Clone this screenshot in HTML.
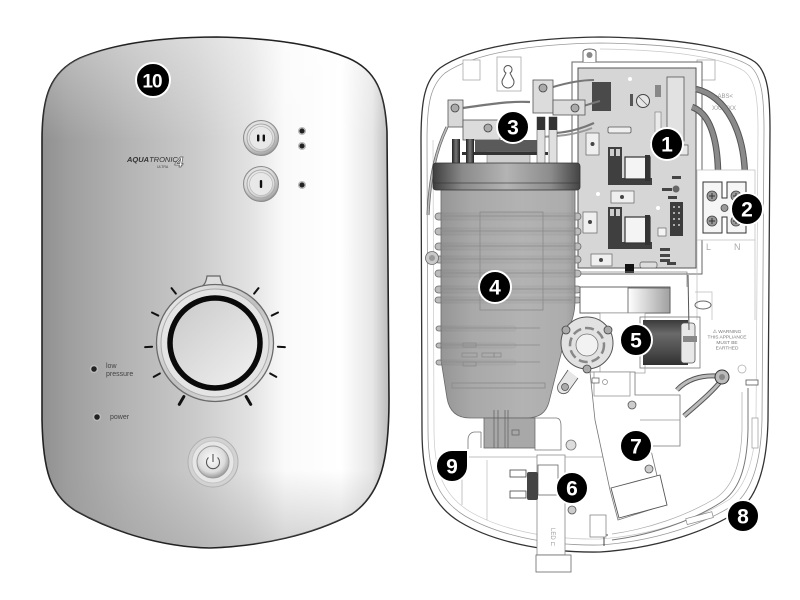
<!DOCTYPE html>
<html><head><meta charset="utf-8"><style>
html,body{margin:0;padding:0;background:#fff;}
svg{display:block;}
text{font-family:"Liberation Sans",sans-serif;}
</style></head><body>
<svg width="800" height="600" viewBox="0 0 800 600" xmlns="http://www.w3.org/2000/svg">
<defs>
<linearGradient id="cov" x1="40" y1="0" x2="390" y2="0" gradientUnits="userSpaceOnUse">
<stop offset="0" stop-color="#8f8f8f"/><stop offset="0.08" stop-color="#9e9e9e"/>
<stop offset="0.25" stop-color="#b4b4b4"/><stop offset="0.45" stop-color="#cbcbcb"/>
<stop offset="0.6" stop-color="#e2e2e2"/><stop offset="0.7" stop-color="#fafafa"/>
<stop offset="0.86" stop-color="#ffffff"/><stop offset="0.95" stop-color="#e6e6e6"/>
<stop offset="1" stop-color="#b8b8b8"/></linearGradient>
<linearGradient id="covb" x1="0" y1="470" x2="0" y2="550" gradientUnits="userSpaceOnUse">
<stop offset="0" stop-color="#999" stop-opacity="0"/><stop offset="1" stop-color="#999" stop-opacity="0.45"/></linearGradient>
<linearGradient id="covt" x1="0" y1="37" x2="0" y2="140" gradientUnits="userSpaceOnUse">
<stop offset="0" stop-color="#fff" stop-opacity="0.35"/><stop offset="1" stop-color="#fff" stop-opacity="0"/></linearGradient>
<radialGradient id="btn" cx="0.45" cy="0.4" r="0.6"><stop offset="0" stop-color="#fafafa"/><stop offset="0.7" stop-color="#dcdcdc"/><stop offset="1" stop-color="#9a9a9a"/></radialGradient>
<linearGradient id="dial" x1="0" y1="0" x2="1" y2="1"><stop offset="0" stop-color="#c8c8c8"/><stop offset="1" stop-color="#f2f2f2"/></linearGradient>
<linearGradient id="ring" x1="0" y1="0" x2="1" y2="1"><stop offset="0" stop-color="#f4f4f4"/><stop offset="0.5" stop-color="#c0c0c0"/><stop offset="1" stop-color="#eeeeee"/></linearGradient>
<linearGradient id="cap" x1="433" y1="0" x2="580" y2="0" gradientUnits="userSpaceOnUse">
<stop offset="0" stop-color="#3e3e3e"/><stop offset="0.2" stop-color="#8a8a8a"/><stop offset="0.5" stop-color="#b4b4b4"/><stop offset="0.8" stop-color="#8c8c8c"/><stop offset="1" stop-color="#444"/></linearGradient>
<linearGradient id="tank" x1="436" y1="0" x2="580" y2="0" gradientUnits="userSpaceOnUse">
<stop offset="0" stop-color="#8a8a8a"/><stop offset="0.25" stop-color="#a2a2a2"/><stop offset="0.6" stop-color="#adadad"/><stop offset="0.9" stop-color="#a6a6a6"/><stop offset="1" stop-color="#8e8e8e"/></linearGradient>
<linearGradient id="sol" x1="0" y1="320" x2="0" y2="366" gradientUnits="userSpaceOnUse">
<stop offset="0" stop-color="#3a3a3a"/><stop offset="0.3" stop-color="#6a6a6a"/><stop offset="0.7" stop-color="#4a4a4a"/><stop offset="1" stop-color="#2e2e2e"/></linearGradient>
<linearGradient id="cyl" x1="628" y1="0" x2="670" y2="0" gradientUnits="userSpaceOnUse">
<stop offset="0" stop-color="#fff"/><stop offset="1" stop-color="#a0a0a0"/></linearGradient>
<linearGradient id="stub" x1="0" y1="0" x2="1" y2="0"><stop offset="0" stop-color="#222"/><stop offset="0.5" stop-color="#777"/><stop offset="1" stop-color="#222"/></linearGradient>
</defs>

<!-- ================= FRONT COVER ================= -->
<path d="M217 37 C270 38 315 44 348 58 C376 70 385 92 387 132 L389 400 C389 460 381 494 352 514 C312 535 262 546 210 548 C160 547 112 531 76 511 C50 495 43 470 42 420 L42 140 C42 97 50 72 80 58 C118 42 168 37 217 37 Z" fill="url(#cov)" stroke="#222" stroke-width="1.6"/>
<path d="M217 38 C270 39 315 45 348 59 C376 71 385 92 387 132 L389 400 C389 460 381 494 352 514 C312 535 262 546 210 547 C160 546 112 531 76 511 C50 495 43 470 42 420 L42 140 C42 97 50 72 80 58 C118 43 168 38 217 38 Z" fill="url(#covb)"/>
<path d="M217 38 C270 39 315 45 348 59 C376 71 385 92 387 132 L387 140 L42 140 C42 97 50 72 80 58 C118 43 168 38 217 38 Z" fill="url(#covt)"/>

<!-- label 10 -->
<circle cx="153" cy="80" r="17" fill="#000" stroke="#fff" stroke-width="2"/>
<text x="152" y="87.5" font-size="19" font-weight="bold" fill="#fff" text-anchor="middle" letter-spacing="-1">10</text>

<!-- buttons -->
<circle cx="261" cy="138" r="17.5" fill="url(#btn)" stroke="#8a8a8a" stroke-width="1"/>
<circle cx="261" cy="138" r="14" fill="none" stroke="#a8a8a8" stroke-width="1"/>
<circle cx="261" cy="138" r="11.5" fill="#e8e8e8" stroke="#bbb" stroke-width="0.8"/>
<rect x="257" y="134.5" width="2.4" height="7" rx="1" fill="#111"/><rect x="262.6" y="134.5" width="2.4" height="7" rx="1" fill="#111"/>
<circle cx="261" cy="184" r="17.5" fill="url(#btn)" stroke="#8a8a8a" stroke-width="1"/>
<circle cx="261" cy="184" r="14" fill="none" stroke="#a8a8a8" stroke-width="1"/>
<circle cx="261" cy="184" r="11.5" fill="#e8e8e8" stroke="#bbb" stroke-width="0.8"/>
<rect x="259.8" y="180" width="2.4" height="8" rx="1" fill="#111"/>
<!-- LEDs -->
<g fill="#222" stroke="#bbb" stroke-width="1.5">
<circle cx="302" cy="131" r="3.3"/><circle cx="302" cy="146" r="3.3"/><circle cx="302" cy="185" r="3.3"/>
<circle cx="94" cy="369" r="3.5"/><circle cx="97" cy="417" r="3.5"/></g>
<!-- logo -->
<text x="127" y="162" font-size="7.5" fill="#333" font-style="italic"><tspan font-weight="bold">AQUA</tspan>TRONIC</text>
<text x="175" y="167" font-size="15" fill="#fff" stroke="#555" stroke-width="0.7" font-style="italic" font-weight="bold">4</text>
<text x="157" y="168" font-size="3.5" fill="#444">ULTRA</text>
<text x="106" y="368" font-size="7" fill="#444">low</text>
<text x="106" y="376" font-size="7" fill="#444">pressure</text>
<text x="110" y="419" font-size="7" fill="#444">power</text>

<!-- dial -->
<g stroke="#111" stroke-width="2" stroke-linecap="round">
<line x1="278" y1="343" x2="285" y2="343" transform="rotate(-128.4 215 343)"/>
<line x1="278" y1="343" x2="285" y2="343" transform="rotate(-154.2 215 343)"/>
<line x1="278" y1="343" x2="285" y2="343" transform="rotate(176.6 215 343)"/>
<line x1="278" y1="343" x2="285" y2="343" transform="rotate(151.1 215 343)"/>
<line x1="277" y1="343" x2="286" y2="343" stroke-width="3" transform="rotate(120.2 215 343)"/>
<line x1="278" y1="343" x2="285" y2="343" transform="rotate(-51.6 215 343)"/>
<line x1="278" y1="343" x2="285" y2="343" transform="rotate(-25.8 215 343)"/>
<line x1="278" y1="343" x2="285" y2="343" transform="rotate(3.4 215 343)"/>
<line x1="278" y1="343" x2="285" y2="343" transform="rotate(28.9 215 343)"/>
<line x1="277" y1="343" x2="286" y2="343" stroke-width="3" transform="rotate(59.8 215 343)"/>
</g>
<path d="M196 289 C203 287 206 284 207 276 L220 276 C221 284 224 287 231 289 Z" fill="#ddd" stroke="#666" stroke-width="1.2"/>
<circle cx="215" cy="343" r="58.5" fill="url(#ring)" stroke="#6a6a6a" stroke-width="1.3"/>
<circle cx="215" cy="343" r="54" fill="#e4e4e4" stroke="#aaa" stroke-width="1"/>
<circle cx="215" cy="343" r="45" fill="url(#dial)" stroke="#0a0a0a" stroke-width="5.5"/>

<!-- power button -->
<circle cx="213" cy="462" r="25" fill="#d2d2d2" stroke="#b0b0b0" stroke-width="1"/>
<circle cx="213" cy="462" r="21" fill="#e6e6e6" stroke="#c4c4c4" stroke-width="1"/>
<circle cx="213" cy="462" r="16" fill="url(#btn)" stroke="#999" stroke-width="1"/>
<path d="M208.5 457.5 A6.5 6.5 0 1 0 217.5 457.5" fill="none" stroke="#555" stroke-width="1.1"/>
<line x1="213" y1="454" x2="213" y2="462" stroke="#555" stroke-width="1.1"/>

<!-- ================= BACK PLATE ================= -->
<path d="M600 37 C680 38 735 48 755 62 C768 72 770 95 770 130 L768 420 C767 465 758 495 740 510 C710 530 660 548 600 552 C540 553 490 540 460 522 C432 505 422 480 422 430 L421 140 C421 100 425 80 440 68 C470 47 530 38 600 37 Z" fill="#fff" stroke="#333" stroke-width="1.3"/>
<path d="M600 43 C678 44 730 53 750 66 C762 76 764 98 764 130 L762 420 C761 462 752 490 735 504 C706 523 658 541 600 545 C542 546 494 533 465 516 C439 500 428 477 428 430 L427 140 C427 102 431 85 445 73 C474 53 532 44 600 43 Z" fill="none" stroke="#999" stroke-width="0.8"/>
<path d="M600 49 C676 50 724 58 744 71 C756 80 758 100 758 130 L756 420 C755 458 746 485 730 499 C702 517 656 535 600 539 C544 540 497 528 469 511 C445 496 434 474 434 430 L433 140" fill="none" stroke="#c8c8c8" stroke-width="0.7"/>
<!-- lower right channel -->
<path d="M748 388 L748 430 C747 470 738 492 720 503 C690 522 650 535 612 540" fill="none" stroke="#777" stroke-width="1"/>
<path d="M742 392 L742 430 C741 466 732 487 716 498 C686 516 648 529 612 534" fill="none" stroke="#aaa" stroke-width="0.7"/>
<rect x="746" y="380" width="12" height="5" fill="#fff" stroke="#555" stroke-width="0.8"/>
<rect x="752" y="418" width="6" height="30" fill="#fff" stroke="#999" stroke-width="0.7"/>
<rect x="686" y="515" width="27" height="6" fill="#fff" stroke="#888" stroke-width="0.7" transform="rotate(-15 700 518)"/>
<path d="M604 532 L604 546 M600 535 L608 535" stroke="#444" stroke-width="1"/>
<!-- top details -->
<rect x="463" y="60" width="17" height="20" fill="#fff" stroke="#aaa" stroke-width="0.8"/>
<rect x="497" y="57" width="24" height="34" fill="#fff" stroke="#aaa" stroke-width="0.8"/>
<path d="M506 73 A4 4 0 1 1 510 73 L512.5 78 A6 6 0 1 1 503.5 78 Z" fill="#fff" stroke="#555" stroke-width="1"/>
<rect x="697" y="60" width="18" height="20" fill="#fff" stroke="#aaa" stroke-width="0.8"/>
<text x="714" y="98" font-size="6" fill="#999">&gt;ABS&lt;</text>
<text x="712" y="110" font-size="6" fill="#999">XXXXXX</text>
<!-- PCB frame -->
<rect x="572" y="62" width="130" height="212" fill="#fff" stroke="#666" stroke-width="1"/>
<path d="M583 62 L583 52 C583 48 596 48 596 52 L596 62" fill="#fff" stroke="#666" stroke-width="1"/>
<circle cx="589.5" cy="55" r="3" fill="#888"/>
<rect x="578" y="68" width="118" height="200" fill="#d6d6d6" stroke="#555" stroke-width="1"/>
<!-- PCB parts -->
<rect x="592" y="82" width="19" height="29" fill="#4a4a4a"/>
<circle cx="643" cy="101" r="6.5" fill="#e6e6e6" stroke="#444" stroke-width="1"/>
<line x1="639" y1="97" x2="647" y2="105" stroke="#666" stroke-width="0.8"/>
<rect x="667" y="77" width="17" height="64" fill="#e2e2e2" stroke="#555" stroke-width="0.8"/>
<rect x="655" y="112" width="6" height="26" fill="#eaeaea" stroke="#777" stroke-width="0.6"/>
<rect x="608" y="127" width="23" height="6" rx="1.5" fill="#efefef" stroke="#555" stroke-width="0.8"/>
<rect x="655" y="85" width="6" height="12" fill="#888"/>
<rect x="630" y="94" width="3" height="12" fill="#555"/>
<rect x="586" y="133" width="13" height="22" fill="#efefef" stroke="#666" stroke-width="0.7"/><circle cx="592.5" cy="144" r="2" fill="#444"/>
<rect x="583" y="212" width="14" height="21" fill="#efefef" stroke="#666" stroke-width="0.7"/><circle cx="590" cy="222" r="2" fill="#444"/>
<rect x="611" y="191" width="23" height="12" fill="#efefef" stroke="#666" stroke-width="0.7"/><circle cx="622" cy="197" r="2" fill="#444"/>
<rect x="591" y="254" width="21" height="12" fill="#efefef" stroke="#666" stroke-width="0.7"/><circle cx="601" cy="260" r="2" fill="#444"/>
<!-- relay 1 -->
<path d="M608 147 L622 147 L622 178 L652 178 L652 185 L608 185 Z" fill="#3f3f3f"/>
<rect x="610" y="149" width="4" height="7" fill="#ccc"/><rect x="616" y="149" width="4" height="7" fill="#ccc"/>
<rect x="625" y="157" width="25" height="22" fill="#f4f4f4" stroke="#333" stroke-width="1.2"/>
<rect x="645" y="155" width="5" height="26" fill="#333"/>
<!-- relay 2 -->
<path d="M608 207 L622 207 L622 242 L652 242 L652 249 L608 249 Z" fill="#3f3f3f"/>
<rect x="610" y="209" width="4" height="7" fill="#ccc"/><rect x="616" y="209" width="4" height="7" fill="#ccc"/>
<rect x="625" y="217" width="25" height="26" fill="#f4f4f4" stroke="#333" stroke-width="1.2"/>
<rect x="645" y="215" width="5" height="30" fill="#333"/>
<!-- connector -->
<rect x="670" y="202" width="13" height="34" fill="#3c3c3c"/>
<g fill="#aaa"><rect x="673" y="206" width="2" height="2"/><rect x="678" y="206" width="2" height="2"/><rect x="673" y="212" width="2" height="2"/><rect x="678" y="212" width="2" height="2"/><rect x="673" y="218" width="2" height="2"/><rect x="678" y="218" width="2" height="2"/><rect x="673" y="224" width="2" height="2"/><rect x="678" y="224" width="2" height="2"/></g>
<rect x="658" y="228" width="8" height="8" fill="#f4f4f4" stroke="#555" stroke-width="0.6"/>
<g fill="#444"><rect x="660" y="248" width="10" height="3"/><rect x="660" y="254" width="10" height="3"/><rect x="660" y="259" width="10" height="3"/><rect x="662" y="188" width="10" height="3"/><rect x="668" y="196" width="9" height="3"/><rect x="672" y="176" width="9" height="3"/><rect x="650" y="142" width="9" height="3"/><rect x="667" y="262" width="9" height="3"/></g>
<circle cx="676" cy="189" r="3.5" fill="#666"/>
<rect x="677" y="145" width="11" height="10" fill="#e8e8e8" stroke="#555" stroke-width="0.7"/>
<rect x="625" y="264" width="9" height="9" fill="#111"/>
<rect x="640" y="262" width="17" height="6" rx="2" fill="#ddd" stroke="#555" stroke-width="0.7"/>
<circle cx="630" cy="79" r="2" fill="#fff"/><circle cx="598" cy="194" r="2" fill="#fff"/><circle cx="658" cy="208" r="2" fill="#fff"/>
<!-- cables to terminal -->
<path d="M696 89 C725 96 746 130 745 184" fill="none" stroke="#555" stroke-width="6.5"/>
<path d="M696 89 C725 96 746 130 745 184" fill="none" stroke="#8a8a8a" stroke-width="4.5"/>
<path d="M692 107 C712 114 719 145 718 184" fill="none" stroke="#555" stroke-width="6.5"/>
<path d="M692 107 C712 114 719 145 718 184" fill="none" stroke="#8a8a8a" stroke-width="4.5"/>
<!-- terminal block -->
<rect x="697" y="170" width="58" height="70" fill="#fff" stroke="#bbb" stroke-width="0.7"/>
<path d="M703 182 L722 182 L722 198 L727 198 L727 182 L746 182 L746 233 L727 233 L727 217 L722 217 L722 233 L703 233 Z" fill="#f6f6f6" stroke="#333" stroke-width="1"/>
<g fill="#999" stroke="#444" stroke-width="0.8"><circle cx="712" cy="196" r="5"/><circle cx="712" cy="221" r="5"/><circle cx="736" cy="196" r="5"/><circle cx="736" cy="221" r="5"/><circle cx="724.5" cy="208" r="3.5"/></g>
<g stroke="#333" stroke-width="1"><path d="M709 196 h6 M712 193 v6 M709 221 h6 M712 218 v6 M733 196 h6 M736 193 v6 M733 221 h6 M736 218 v6"/></g>
<text x="706" y="250" font-size="9" fill="#aaa">L</text>
<text x="734" y="250" font-size="9" fill="#aaa">N</text>
<line x1="697" y1="240" x2="697" y2="320" stroke="#bbb" stroke-width="0.7"/>
<line x1="755" y1="240" x2="755" y2="320" stroke="#bbb" stroke-width="0.7"/>

<!-- left wire -->
<path d="M447 127 C436 150 430 175 428 215" fill="none" stroke="#666" stroke-width="3"/>
<path d="M447 127 C436 150 430 175 428 215" fill="none" stroke="#bdbdbd" stroke-width="1.5"/>

<!-- manifold (3) -->
<path d="M463 108 C490 104 510 101 530 102" fill="none" stroke="#777" stroke-width="2.2"/>
<path d="M553 87 C570 82 583 80 594 80" fill="none" stroke="#777" stroke-width="2"/>
<path d="M575 108 C585 106 592 103 600 101" fill="none" stroke="#777" stroke-width="2"/>
<path d="M556 133 C570 132 583 128 594 123" fill="none" stroke="#777" stroke-width="2.2"/>
<path d="M540 137 C560 136 575 135 592 128" fill="none" stroke="#999" stroke-width="2"/>
<rect x="448" y="100" width="15" height="27" fill="#d8d8d8" stroke="#555" stroke-width="0.8"/>
<circle cx="455" cy="108" r="4" fill="#aaa" stroke="#444" stroke-width="0.8"/>
<rect x="463" y="120" width="37" height="20" fill="#dcdcdc" stroke="#555" stroke-width="0.8"/>
<circle cx="488" cy="128" r="4" fill="#aaa" stroke="#444" stroke-width="0.8"/>
<rect x="533" y="80" width="20" height="33" fill="#dcdcdc" stroke="#555" stroke-width="0.8"/>
<circle cx="543" cy="88" r="4" fill="#aaa" stroke="#444" stroke-width="0.8"/>
<rect x="553" y="100" width="32" height="15" fill="#dcdcdc" stroke="#555" stroke-width="0.8"/>
<circle cx="575" cy="108" r="4" fill="#aaa" stroke="#444" stroke-width="0.8"/>
<rect x="475" y="140" width="65" height="13" fill="#5a5a5a"/>
<rect x="487" y="152" width="43" height="12" fill="#cfcfcf" stroke="#777" stroke-width="0.6"/>
<rect x="462" y="152" width="86" height="3" fill="#333"/>
<rect x="452" y="139" width="8" height="25" fill="url(#stub)"/>
<rect x="466" y="139" width="8" height="25" fill="url(#stub)"/>
<rect x="537" y="117" width="8" height="47" fill="#e0e0e0" stroke="#555" stroke-width="0.6"/>
<rect x="549" y="117" width="8" height="47" fill="#e0e0e0" stroke="#555" stroke-width="0.6"/>
<rect x="537" y="117" width="8" height="13" fill="#333"/><rect x="549" y="117" width="8" height="13" fill="#333"/>

<!-- heater tank (4) -->
<g fill="#bcbcbc" stroke="#6a6a6a" stroke-width="0.8">
<rect x="435" y="213" width="146" height="7" rx="3.5"/>
<rect x="435" y="228" width="146" height="7" rx="3.5"/>
<rect x="435" y="243" width="146" height="7" rx="3.5"/>
<rect x="435" y="256" width="146" height="7" rx="3.5"/>
<rect x="435" y="270" width="146" height="7" rx="3.5"/>
<rect x="435" y="286" width="146" height="7" rx="3.5"/>
<rect x="435" y="297" width="146" height="6" rx="3"/>
<rect x="436" y="326" width="80" height="5" rx="2.5"/>
<rect x="436" y="343" width="80" height="5" rx="2.5"/>
<rect x="436" y="360" width="80" height="5" rx="2.5"/>
</g>
<circle cx="432" cy="258" r="6.5" fill="#c8c8c8" stroke="#666" stroke-width="0.8"/>
<circle cx="432" cy="258" r="3" fill="#999"/>
<path d="M441 189 L575 189 L575 300 C575 315 571 324 566 334 L549 402 C546 413 539 418 526 418 L470 418 C456 418 449 410 447 398 L441 360 Z" fill="url(#tank)" stroke="#6a6a6a" stroke-width="0.8" fill-opacity="0.93"/>
<g fill="none" stroke="#8a8a8a" stroke-width="0.8">
<path d="M441 216 H575 M441 231 H575 M441 246 H575 M441 259 H575 M441 273 H575 M441 289 H575 M441 300 H572 M441 328 H540 M441 345 H540 M441 362 H540"/>
<rect x="480" y="212" width="63" height="98"/>
<rect x="452" y="383" width="93" height="5"/>
<rect x="463" y="343" width="13" height="4"/><rect x="462" y="353" width="15" height="4"/><rect x="482" y="353" width="12" height="4"/><rect x="494" y="353" width="7" height="4"/><rect x="463" y="362" width="13" height="4"/>
</g>
<rect x="433" y="163" width="147" height="27" rx="3" fill="url(#cap)" stroke="#333" stroke-width="0.8"/>
<line x1="434" y1="183" x2="579" y2="183" stroke="#333" stroke-width="1" opacity="0.6"/>
<!-- outlet -->
<rect x="484" y="418" width="51" height="30" fill="#a8a8a8" stroke="#666" stroke-width="0.8"/>
<g stroke="#666" stroke-width="0.8" fill="none"><path d="M494 410 V448 M498 410 V448 M505 410 V448 M508 410 V448"/><rect x="512" y="430" width="7" height="5"/></g>
<path d="M535 418 L556 418 C560 418 561 422 561 426 L561 450 L535 450 Z" fill="#fff" stroke="#777" stroke-width="0.8"/>
<circle cx="571" cy="445" r="5" fill="#ddd" stroke="#777" stroke-width="0.8"/>
<path d="M481 432 L475 432 C470 432 468 436 468 440 L468 452 M481 432 L481 448" fill="none" stroke="#777" stroke-width="0.8"/>
<line x1="455" y1="457" x2="615" y2="457" stroke="#aaa" stroke-width="0.8"/>
<line x1="462" y1="470" x2="462" y2="505" stroke="#aaa" stroke-width="0.7"/>
<line x1="487" y1="460" x2="487" y2="520" stroke="#bbb" stroke-width="0.7"/>

<!-- gear motor / valve (5) -->
<path d="M580 272 L687 272 L687 287" fill="none" stroke="#888" stroke-width="0.8"/>
<rect x="580" y="287" width="90" height="26" fill="#fff" stroke="#555" stroke-width="0.9"/>
<rect x="628" y="288" width="42" height="25" fill="url(#cyl)" stroke="#555" stroke-width="0.8"/>
<rect x="600" y="313" width="45" height="60" fill="#fff" stroke="#999" stroke-width="0.7"/>
<circle cx="587" cy="343" r="26" fill="#e2e2e2" stroke="#555" stroke-width="1"/>
<circle cx="587" cy="345" r="17" fill="none" stroke="#888" stroke-width="2.5" stroke-dasharray="9 4"/>
<circle cx="587" cy="345" r="11" fill="#f2f2f2" stroke="#777" stroke-width="0.8"/>
<g fill="#aaa" stroke="#444" stroke-width="0.8"><circle cx="566" cy="330" r="4"/><circle cx="608" cy="330" r="4"/><circle cx="587" cy="369" r="4"/></g>
<path d="M568 370 L558 385 C556 392 562 396 568 392 L578 378" fill="#e6e6e6" stroke="#555" stroke-width="0.8"/>
<circle cx="565" cy="387" r="3.5" fill="#aaa" stroke="#444" stroke-width="0.7"/>
<rect x="643" y="320" width="45" height="45" fill="url(#sol)"/>
<rect x="640" y="317" width="60" height="51" fill="none" stroke="#777" stroke-width="0.8"/>
<rect x="681" y="323" width="14" height="40" rx="3" fill="#e8e8e8" stroke="#555" stroke-width="0.8"/>
<rect x="683" y="336" width="14" height="6" fill="#888"/>
<line x1="688" y1="275" x2="689" y2="330" stroke="#555" stroke-width="1"/>
<ellipse cx="703" cy="305" rx="8" ry="4" fill="none" stroke="#666" stroke-width="1"/>
<path d="M695 292 L712 292 L712 320" fill="none" stroke="#bbb" stroke-width="0.7"/>
<text x="727" y="333" font-size="4.8" fill="#777" text-anchor="middle">⚠ WARNING</text>
<text x="727" y="338.5" font-size="4.8" fill="#777" text-anchor="middle">THIS APPLIANCE</text>
<text x="727" y="344" font-size="4.8" fill="#777" text-anchor="middle">MUST BE</text>
<text x="727" y="349.5" font-size="4.8" fill="#777" text-anchor="middle">EARTHED</text>
<circle cx="742" cy="369" r="4" fill="none" stroke="#aaa" stroke-width="0.7"/>
<!-- earth cables -->
<path d="M677 390 C686 380 700 375 717 376" fill="none" stroke="#555" stroke-width="5"/>
<path d="M677 390 C686 380 700 375 717 376" fill="none" stroke="#bbb" stroke-width="3"/>
<path d="M720 382 C712 392 700 402 684 416" fill="none" stroke="#555" stroke-width="5"/>
<path d="M720 382 C712 392 700 402 684 416" fill="none" stroke="#bbb" stroke-width="3"/>
<circle cx="722" cy="377" r="7" fill="#bbb" stroke="#333" stroke-width="1"/>
<circle cx="722" cy="377" r="3" fill="#888"/>

<!-- flow part (7) -->
<path d="M590 372 L635 372 L635 395 L680 395 L680 446 L650 446 L658 480 L665 505 L618 520 L610 490 L595 420 Z" fill="#fff" stroke="#777" stroke-width="0.8"/>
<path d="M640 420 L680 420" stroke="#999" stroke-width="0.7"/>
<rect x="594" y="372" width="36" height="24" fill="#fff" stroke="#888" stroke-width="0.7"/>
<circle cx="605" cy="382" r="2.5" fill="none" stroke="#888" stroke-width="0.7"/>
<rect x="592" y="378" width="7" height="5" fill="#fff" stroke="#555" stroke-width="0.7"/>
<circle cx="632" cy="405" r="4" fill="#ccc" stroke="#555" stroke-width="0.8"/>
<circle cx="649" cy="469" r="4" fill="#ccc" stroke="#555" stroke-width="0.8"/>
<path d="M611 488 L660 475 L667 505 L619 518 Z" fill="#fff" stroke="#555" stroke-width="0.9"/>
<!-- part 6 -->
<path d="M537 455 L565 455 L565 555 L537 555 Z" fill="#fff" stroke="#888" stroke-width="0.8"/>
<rect x="536" y="555" width="35" height="17" fill="#fff" stroke="#666" stroke-width="0.8"/>
<text x="0" y="0" font-size="6" fill="#999" transform="translate(551 528) rotate(90)">LED ⊏</text>
<rect x="538" y="465" width="20" height="30" fill="#fff" stroke="#666" stroke-width="0.8"/>
<rect x="527" y="472" width="11" height="28" rx="2" fill="#444"/>
<rect x="510" y="470" width="16" height="7" fill="#fff" stroke="#444" stroke-width="0.8"/>
<rect x="510" y="491" width="16" height="7" fill="#fff" stroke="#444" stroke-width="0.8"/>
<circle cx="572" cy="510" r="4" fill="#ccc" stroke="#555" stroke-width="0.8"/>
<rect x="590" y="515" width="16" height="22" fill="#fff" stroke="#777" stroke-width="0.7"/>

<!-- labels -->
<g stroke="#fff" stroke-width="2" fill="#000">
<circle cx="667" cy="144" r="16"/>
<circle cx="747" cy="209" r="16"/>
<circle cx="513" cy="127" r="16"/>
<circle cx="495" cy="287" r="16"/>
<circle cx="636" cy="340" r="16"/>
<circle cx="572" cy="488" r="16"/>
<circle cx="636" cy="446" r="16"/>
<circle cx="743" cy="516" r="16"/>
<path d="M468 450 L468 466 A16 16 0 1 1 452 450 Z"/>
</g>
<g font-size="21" font-weight="bold" fill="#fff" text-anchor="middle">
<text x="667" y="151.5">1</text>
<text x="747" y="216.5">2</text>
<text x="513" y="134.5">3</text>
<text x="495" y="294.5">4</text>
<text x="636" y="347.5">5</text>
<text x="572" y="495.5">6</text>
<text x="636" y="453.5">7</text>
<text x="743" y="523.5">8</text>
<text x="452" y="473.5">9</text>
</g>
</svg>
</body></html>
